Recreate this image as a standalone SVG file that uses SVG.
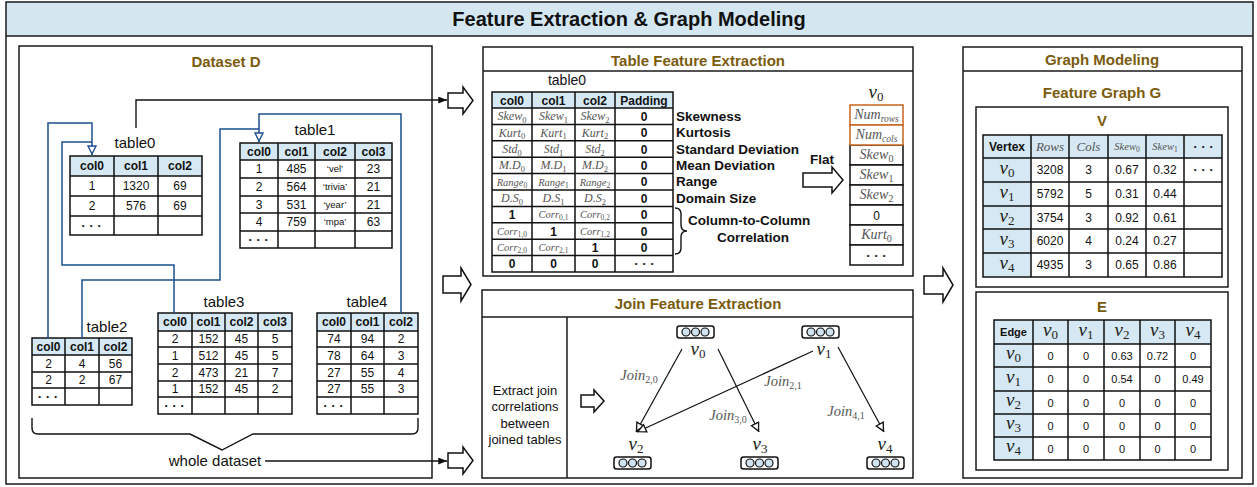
<svg xmlns="http://www.w3.org/2000/svg" width="1257" height="487" viewBox="0 0 1257 487">
  <style>
    .frame{fill:none;stroke:#1a1a1a;stroke-width:1.5}
    .hdr{fill:#d5e8f3}
    .grid{fill:none;stroke:#111;stroke-width:1.5}
    .t{font-family:"Liberation Sans",Arial,sans-serif;font-size:12px;fill:#111;text-anchor:middle}
    .b{font-weight:bold}
    .f15{font-size:15px}
    .f14{font-size:14px}
    .f13{font-size:13px}
    .f11{font-size:11px}
    .q{font-size:9.5px}
    .lbl{font-family:"Liberation Sans",Arial,sans-serif;font-size:13.5px;font-weight:bold;fill:#111}
    .ttl{font-family:"Liberation Sans",Arial,sans-serif;font-size:15px;font-weight:bold;fill:#7a5b0e;text-anchor:middle}
    .m{font-family:"Liberation Serif","DejaVu Serif",serif;font-style:italic;fill:#555;text-anchor:middle}
    .mv{font-family:"Liberation Serif","DejaVu Serif",serif;font-style:italic;fill:#222;text-anchor:middle}
    .up{font-style:normal}
    .dots{font-family:"Liberation Sans",Arial,sans-serif;font-size:8px;fill:#111;text-anchor:middle;letter-spacing:1.5px}
    .blk{fill:#fff;stroke:#111;stroke-width:1.5;stroke-linejoin:miter}
    .link{fill:none;stroke:#1c4f8f;stroke-width:1.5}
    .wire{fill:none;stroke:#111;stroke-width:1.4}
    .edge{fill:none;stroke:#111;stroke-width:1.2}
    .orange{fill:#fff;stroke:#c8641e;stroke-width:1.5}
    .cell{fill:#fff;stroke:#111;stroke-width:1.5}
    .icon{fill:#fff;stroke:#111;stroke-width:1.5}
    .dot{fill:#cfe3f1;stroke:#111;stroke-width:1.2}
  </style>
  <defs>
    <marker id="fillArrow" viewBox="0 0 10 8" refX="10" refY="4" markerWidth="9" markerHeight="7" orient="auto" markerUnits="userSpaceOnUse">
      <path d="M0,0 L10,4 L0,8 z" fill="#111"/>
    </marker>
    <marker id="openBlue" viewBox="0 0 10 10" refX="10" refY="5" markerWidth="10" markerHeight="10" orient="auto" markerUnits="userSpaceOnUse">
      <path d="M1,1 L9,5 L1,9 z" fill="#fff" stroke="#1c4f8f" stroke-width="1.4"/>
    </marker>
    <marker id="openBlack" viewBox="0 0 10 10" refX="10" refY="5" markerWidth="10" markerHeight="10" orient="auto" markerUnits="userSpaceOnUse">
      <path d="M1,1 L9,5 L1,9 z" fill="#fff" stroke="#111" stroke-width="1.3"/>
    </marker>
  </defs>

  <rect x="0" y="0" width="1257" height="487" fill="#fff"/>

  <!-- outer frame with title band -->
  <g id="title">
    <rect x="6" y="2" width="1247" height="34" fill="#d4e7f1"/>
    <rect class="frame" x="6" y="2" width="1247" height="482"/>
    <line class="frame" x1="6" y1="36" x2="1253" y2="36"/>
    <text x="629" y="26" font-family="Liberation Sans, Arial, sans-serif" font-size="20" font-weight="bold" fill="#111" text-anchor="middle">Feature Extraction &amp; Graph Modeling</text>
  </g>

  <!-- ===== Dataset D ===== -->
  <g id="dataset">
    <rect class="frame" x="19" y="46" width="413" height="432"/>
    <text class="ttl" x="226" y="67">Dataset D</text>

    <!-- table0 -->
    <g id="table0">
      <text class="t f15" x="135" y="148">table0</text>
      <rect class="hdr" x="70" y="156" width="132" height="20"/>
      <path class="grid" d="M70,156H202V235H70Z M114,156V235 M158,156V235 M70,176H202 M70,196H202 M70,216H202"/>
      <text class="t b" x="92" y="170">col0</text><text class="t b" x="136" y="170">col1</text><text class="t b" x="180" y="170">col2</text>
      <text class="t" x="92" y="190">1</text><text class="t" x="136" y="190">1320</text><text class="t" x="180" y="190">69</text>
      <text class="t" x="92" y="210">2</text><text class="t" x="136" y="210">576</text><text class="t" x="180" y="210">69</text>
      <text class="dots" x="92" y="228">• • •</text>
    </g>

    <!-- table1 -->
    <g id="table1">
      <text class="t f15" x="315" y="135">table1</text>
      <rect class="hdr" x="240" y="143" width="152" height="17"/>
      <path class="grid" d="M240,143H392V248H240Z M278,143V248 M315,143V248 M355,143V248 M240,160H392 M240,178H392 M240,196H392 M240,213H392 M240,231H392"/>
      <text class="t b" x="259" y="156">col0</text><text class="t b" x="296.5" y="156">col1</text><text class="t b" x="335" y="156">col2</text><text class="t b" x="373.5" y="156">col3</text>
      <text class="t" x="259" y="173">1</text><text class="t" x="296.5" y="173">485</text><text class="t q" x="335" y="172">‘vel’</text><text class="t" x="373.5" y="173">23</text>
      <text class="t" x="259" y="191">2</text><text class="t" x="296.5" y="191">564</text><text class="t q" x="335" y="190">‘trivia’</text><text class="t" x="373.5" y="191">21</text>
      <text class="t" x="259" y="209">3</text><text class="t" x="296.5" y="209">531</text><text class="t q" x="335" y="208">‘year’</text><text class="t" x="373.5" y="209">21</text>
      <text class="t" x="259" y="226">4</text><text class="t" x="296.5" y="226">759</text><text class="t q" x="335" y="225">‘mpa’</text><text class="t" x="373.5" y="226">63</text>
      <text class="dots" x="259" y="242">• • •</text>
    </g>

    <!-- table2 -->
    <g id="table2">
      <text class="t f15" x="107" y="332">table2</text>
      <rect class="hdr" x="32" y="338" width="100" height="17"/>
      <path class="grid" d="M32,338H132V405H32Z M65,338V405 M99,338V405 M32,355H132 M32,372H132 M32,388H132"/>
      <text class="t b" x="48.5" y="351">col0</text><text class="t b" x="82" y="351">col1</text><text class="t b" x="115.5" y="351">col2</text>
      <text class="t" x="48.5" y="368">2</text><text class="t" x="82" y="368">4</text><text class="t" x="115.5" y="368">56</text>
      <text class="t" x="48.5" y="384">2</text><text class="t" x="82" y="384">2</text><text class="t" x="115.5" y="384">67</text>
      <text class="dots" x="48.5" y="399">• • •</text>
    </g>

    <!-- table3 -->
    <g id="table3">
      <text class="t f15" x="224" y="307">table3</text>
      <rect class="hdr" x="158" y="313" width="134" height="18"/>
      <path class="grid" d="M158,313H292V414H158Z M192,313V414 M225,313V414 M258,313V414 M158,331H292 M158,347H292 M158,364H292 M158,381H292 M158,397H292"/>
      <text class="t b" x="175" y="326">col0</text><text class="t b" x="208.5" y="326">col1</text><text class="t b" x="241.5" y="326">col2</text><text class="t b" x="275" y="326">col3</text>
      <text class="t" x="175" y="343">2</text><text class="t" x="208.5" y="343">152</text><text class="t" x="241.5" y="343">45</text><text class="t" x="275" y="343">5</text>
      <text class="t" x="175" y="360">1</text><text class="t" x="208.5" y="360">512</text><text class="t" x="241.5" y="360">45</text><text class="t" x="275" y="360">5</text>
      <text class="t" x="175" y="377">2</text><text class="t" x="208.5" y="377">473</text><text class="t" x="241.5" y="377">21</text><text class="t" x="275" y="377">7</text>
      <text class="t" x="175" y="393">1</text><text class="t" x="208.5" y="393">152</text><text class="t" x="241.5" y="393">45</text><text class="t" x="275" y="393">2</text>
      <text class="dots" x="175" y="408">• • •</text>
    </g>

    <!-- table4 -->
    <g id="table4">
      <text class="t f15" x="367" y="307">table4</text>
      <rect class="hdr" x="317" y="313" width="101" height="18"/>
      <path class="grid" d="M317,313H418V414H317Z M351,313V414 M384,313V414 M317,331H418 M317,347H418 M317,364H418 M317,381H418 M317,397H418"/>
      <text class="t b" x="334" y="326">col0</text><text class="t b" x="367.5" y="326">col1</text><text class="t b" x="401" y="326">col2</text>
      <text class="t" x="334" y="343">74</text><text class="t" x="367.5" y="343">94</text><text class="t" x="401" y="343">2</text>
      <text class="t" x="334" y="360">78</text><text class="t" x="367.5" y="360">64</text><text class="t" x="401" y="360">3</text>
      <text class="t" x="334" y="377">27</text><text class="t" x="367.5" y="377">55</text><text class="t" x="401" y="377">4</text>
      <text class="t" x="334" y="393">27</text><text class="t" x="367.5" y="393">55</text><text class="t" x="401" y="393">3</text>
      <text class="dots" x="334" y="408">• • •</text>
    </g>

    <!-- brace grouping all tables -->
    <path class="wire" d="M32,418 V428 Q32,434 38,434 H190 L222,450 L253,434 H412 Q418,434 418,428 V418"/>
    <text class="t f15" x="215" y="466">whole dataset</text>
  </g>

  <!-- ===== Table Feature Extraction ===== -->
  <g id="table-feature">
    <rect class="frame" x="483" y="47" width="430" height="229"/>
    <line class="frame" x1="483" y1="71" x2="913" y2="71"/>
    <text class="ttl" x="698" y="66">Table Feature Extraction</text>
    <text class="t f14" x="567" y="85">table0</text>

    <rect class="hdr" x="492" y="92" width="181" height="16"/>
    <path class="grid" d="M492,92H673V272H492Z M532,92V272 M575,92V272 M615,92V272 M492,108H673 M492,124.4H673 M492,140.8H673 M492,157.2H673 M492,173.6H673 M492,190H673 M492,206.4H673 M492,222.8H673 M492,239.2H673 M492,255.6H673"/>
    <text class="t b" x="512" y="104.5">col0</text><text class="t b" x="553.5" y="104.5">col1</text><text class="t b" x="595" y="104.5">col2</text><text class="t b" x="644" y="104.5">Padding</text>

    <g>
      <text class="m" x="512" y="120" font-size="12">Skew<tspan class="up" font-size="8.5" dy="2.5">0</tspan></text>
      <text class="m" x="553.5" y="120" font-size="12">Skew<tspan class="up" font-size="8.5" dy="2.5">1</tspan></text>
      <text class="m" x="595" y="120" font-size="12">Skew<tspan class="up" font-size="8.5" dy="2.5">2</tspan></text>
      <text class="m" x="512" y="136.5" font-size="12">Kurt<tspan class="up" font-size="8.5" dy="2.5">0</tspan></text>
      <text class="m" x="553.5" y="136.5" font-size="12">Kurt<tspan class="up" font-size="8.5" dy="2.5">1</tspan></text>
      <text class="m" x="595" y="136.5" font-size="12">Kurt<tspan class="up" font-size="8.5" dy="2.5">2</tspan></text>
      <text class="m" x="512" y="153" font-size="12">Std<tspan class="up" font-size="8.5" dy="2.5">0</tspan></text>
      <text class="m" x="553.5" y="153" font-size="12">Std<tspan class="up" font-size="8.5" dy="2.5">1</tspan></text>
      <text class="m" x="595" y="153" font-size="12">Std<tspan class="up" font-size="8.5" dy="2.5">2</tspan></text>
      <text class="m" x="512" y="169" font-size="12">M.D<tspan class="up" font-size="8.5" dy="2.5">0</tspan></text>
      <text class="m" x="553.5" y="169" font-size="12">M.D<tspan class="up" font-size="8.5" dy="2.5">1</tspan></text>
      <text class="m" x="595" y="169" font-size="12">M.D<tspan class="up" font-size="8.5" dy="2.5">2</tspan></text>
      <text class="m" x="512" y="185.5" font-size="10.5">Range<tspan class="up" font-size="7.5" dy="2">0</tspan></text>
      <text class="m" x="553.5" y="185.5" font-size="10.5">Range<tspan class="up" font-size="7.5" dy="2">1</tspan></text>
      <text class="m" x="595" y="185.5" font-size="10.5">Range<tspan class="up" font-size="7.5" dy="2">2</tspan></text>
      <text class="m" x="512" y="202" font-size="12">D.S<tspan class="up" font-size="8.5" dy="2.5">0</tspan></text>
      <text class="m" x="553.5" y="202" font-size="12">D.S<tspan class="up" font-size="8.5" dy="2.5">1</tspan></text>
      <text class="m" x="595" y="202" font-size="12">D.S<tspan class="up" font-size="8.5" dy="2.5">2</tspan></text>
      <text class="m" x="553.5" y="218" font-size="10.5">Corr<tspan class="up" font-size="7.5" dy="2">0,1</tspan></text>
      <text class="m" x="595" y="218" font-size="10.5">Corr<tspan class="up" font-size="7.5" dy="2">0,2</tspan></text>
      <text class="m" x="512" y="234.5" font-size="10.5">Corr<tspan class="up" font-size="7.5" dy="2">1,0</tspan></text>
      <text class="m" x="595" y="234.5" font-size="10.5">Corr<tspan class="up" font-size="7.5" dy="2">1,2</tspan></text>
      <text class="m" x="512" y="251" font-size="10.5">Corr<tspan class="up" font-size="7.5" dy="2">2,0</tspan></text>
      <text class="m" x="553.5" y="251" font-size="10.5">Corr<tspan class="up" font-size="7.5" dy="2">2,1</tspan></text>
    </g>
    <text class="t b" x="512" y="219">1</text>
    <text class="t b" x="553.5" y="235.5">1</text>
    <text class="t b" x="595" y="252">1</text>
    <text class="t b" x="644" y="120.5">0</text>
    <text class="t b" x="644" y="137">0</text>
    <text class="t b" x="644" y="153.5">0</text>
    <text class="t b" x="644" y="169.5">0</text>
    <text class="t b" x="644" y="186">0</text>
    <text class="t b" x="644" y="202.5">0</text>
    <text class="t b" x="644" y="219">0</text>
    <text class="t b" x="644" y="235.5">0</text>
    <text class="t b" x="644" y="252">0</text>
    <text class="t b" x="512" y="268">0</text>
    <text class="t b" x="553.5" y="268">0</text>
    <text class="t b" x="595" y="268">0</text>
    <text class="dots" x="645" y="266">• • •</text>

    <text class="lbl" x="676" y="121">Skewness</text>
    <text class="lbl" x="676" y="137">Kurtosis</text>
    <text class="lbl" x="676" y="153.5">Standard Deviation</text>
    <text class="lbl" x="676" y="170">Mean Deviation</text>
    <text class="lbl" x="676" y="186">Range</text>
    <text class="lbl" x="676" y="202.5">Domain Size</text>
    <path class="wire" stroke-width="1.2" d="M675,208 Q681,208 681,214 V225 Q681,231 687,231 Q681,231 681,237 V248 Q681,254 675,254"/>
    <text class="lbl" x="688" y="225">Column-to-Column</text>
    <text class="lbl" x="753" y="242" text-anchor="middle">Correlation</text>

    <!-- flatten arrow -->
    <text class="lbl" x="822" y="164" text-anchor="middle">Flat</text>
    <polygon class="blk" points="803,173 832,173 832,167 843,180 832,193 832,187 803,187"/>

    <!-- flattened vector v0 -->
    <text class="mv" x="876" y="98" font-size="19">v<tspan class="up" font-size="13" dy="3">0</tspan></text>
    <rect class="cell" x="850" y="145" width="53" height="20"/>
    <rect class="cell" x="850" y="165" width="53" height="20"/>
    <rect class="cell" x="850" y="185" width="53" height="20"/>
    <rect class="cell" x="850" y="205" width="53" height="20"/>
    <rect class="cell" x="850" y="225" width="53" height="20"/>
    <rect class="cell" x="850" y="245" width="53" height="20"/>
    <rect class="orange" x="850" y="105" width="53" height="20"/>
    <rect class="orange" x="850" y="125" width="53" height="20"/>
    <text class="m" x="876.5" y="119" font-size="14">Num<tspan font-size="9.5" dy="2.5">rows</tspan></text>
    <text class="m" x="876.5" y="139" font-size="14">Num<tspan font-size="9.5" dy="2.5">cols</tspan></text>
    <text class="m" x="876.5" y="159" font-size="14">Skew<tspan class="up" font-size="10" dy="2.5">0</tspan></text>
    <text class="m" x="876.5" y="179" font-size="14">Skew<tspan class="up" font-size="10" dy="2.5">1</tspan></text>
    <text class="m" x="876.5" y="199" font-size="14">Skew<tspan class="up" font-size="10" dy="2.5">2</tspan></text>
    <text class="t" x="876.5" y="219.5">0</text>
    <text class="m" x="876.5" y="239" font-size="14">Kurt<tspan class="up" font-size="10" dy="2.5">0</tspan></text>
    <text class="dots" x="877" y="258">• • •</text>
  </g>

  <!-- ===== Join Feature Extraction ===== -->
  <g id="join-feature">
    <rect class="frame" x="482" y="290" width="431" height="188"/>
    <line class="frame" x1="482" y1="317" x2="913" y2="317"/>
    <line class="frame" x1="567" y1="317" x2="567" y2="478"/>
    <text class="ttl" x="698" y="309">Join Feature Extraction</text>
    <text class="t f13" x="525" y="395">Extract join</text>
    <text class="t f13" x="525" y="411">correlations</text>
    <text class="t f13" x="525" y="428">between</text>
    <text class="t f13" x="525" y="444">joined tables</text>
    <polygon class="blk" points="581,395 594,395 594,390 604,401 594,412 594,407 581,407"/>

    <g id="node-v0">
      <rect class="icon" x="677" y="326" width="37" height="12" rx="2.5"/>
      <circle class="dot" cx="686" cy="332" r="4"/><circle class="dot" cx="695.5" cy="332" r="4"/><circle class="dot" cx="705" cy="332" r="4"/>
      <text class="mv" x="698" y="355" font-size="19">v<tspan class="up" font-size="13" dy="3">0</tspan></text>
    </g>
    <g id="node-v1">
      <rect class="icon" x="802" y="326" width="37" height="12" rx="2.5"/>
      <circle class="dot" cx="811" cy="332" r="4"/><circle class="dot" cx="820.5" cy="332" r="4"/><circle class="dot" cx="830" cy="332" r="4"/>
      <text class="mv" x="824" y="355" font-size="19">v<tspan class="up" font-size="13" dy="3">1</tspan></text>
    </g>
    <g id="node-v2">
      <text class="mv" x="636" y="450" font-size="19">v<tspan class="up" font-size="13" dy="3">2</tspan></text>
      <rect class="icon" x="614" y="457" width="37" height="12" rx="2.5"/>
      <circle class="dot" cx="623" cy="463" r="4"/><circle class="dot" cx="632.5" cy="463" r="4"/><circle class="dot" cx="642" cy="463" r="4"/>
    </g>
    <g id="node-v3">
      <text class="mv" x="760" y="450" font-size="19">v<tspan class="up" font-size="13" dy="3">3</tspan></text>
      <rect class="icon" x="741" y="457" width="37" height="12" rx="2.5"/>
      <circle class="dot" cx="750" cy="463" r="4"/><circle class="dot" cx="759.5" cy="463" r="4"/><circle class="dot" cx="769" cy="463" r="4"/>
    </g>
    <g id="node-v4">
      <text class="mv" x="885" y="450" font-size="19">v<tspan class="up" font-size="13" dy="3">4</tspan></text>
      <rect class="icon" x="867" y="457" width="37" height="12" rx="2.5"/>
      <circle class="dot" cx="876" cy="463" r="4"/><circle class="dot" cx="885.5" cy="463" r="4"/><circle class="dot" cx="895" cy="463" r="4"/>
    </g>

    <text class="m" x="639" y="380" font-size="14.5" fill="#333">Join<tspan class="up" font-size="10" dy="3">2,0</tspan></text>
    <text class="m" x="783" y="386" font-size="14.5" fill="#333">Join<tspan class="up" font-size="10" dy="3">2,1</tspan></text>
    <text class="m" x="728" y="420" font-size="14.5" fill="#333">Join<tspan class="up" font-size="10" dy="3">3,0</tspan></text>
    <text class="m" x="846" y="416" font-size="14.5" fill="#333">Join<tspan class="up" font-size="10" dy="3">4,1</tspan></text>
  </g>

  <!-- ===== Graph Modeling ===== -->
  <g id="graph-modeling">
    <rect class="frame" x="963" y="47" width="279" height="431"/>
    <line class="frame" x1="963" y1="71" x2="1242" y2="71"/>
    <text class="ttl" x="1102" y="65">Graph Modeling</text>
    <text class="ttl" x="1102" y="98">Feature Graph G</text>

    <g id="vertex-table">
      <rect class="frame" x="976" y="107" width="252" height="180"/>
      <text class="ttl" x="1102" y="126">V</text>
      <rect class="hdr" x="983" y="135" width="239" height="23"/>
      <rect class="hdr" x="983" y="158" width="48" height="119"/>
      <path class="grid" d="M983,135H1222V277H983Z M1031,135V277 M1069,135V277 M1108,135V277 M1146,135V277 M1184,135V277 M983,158H1222 M983,182H1222 M983,206H1222 M983,229H1222 M983,253H1222"/>
      <text class="t b" x="1007" y="150.5">Vertex</text>
      <text class="m" x="1050" y="151" font-size="13">Rows</text>
      <text class="m" x="1088.5" y="151" font-size="13">Cols</text>
      <text class="m" x="1127" y="150" font-size="10.5">Skew<tspan class="up" font-size="7.5" dy="2">0</tspan></text>
      <text class="m" x="1165" y="150" font-size="10.5">Skew<tspan class="up" font-size="7.5" dy="2">1</tspan></text>
      <text class="dots" x="1204" y="149">• • •</text>

      <text class="mv" x="1007" y="174" font-size="19">v<tspan class="up" font-size="13" dy="3">0</tspan></text>
      <text class="mv" x="1007" y="198" font-size="19">v<tspan class="up" font-size="13" dy="3">1</tspan></text>
      <text class="mv" x="1007" y="221.5" font-size="19">v<tspan class="up" font-size="13" dy="3">2</tspan></text>
      <text class="mv" x="1007" y="245" font-size="19">v<tspan class="up" font-size="13" dy="3">3</tspan></text>
      <text class="mv" x="1007" y="269" font-size="19">v<tspan class="up" font-size="13" dy="3">4</tspan></text>

      <text class="t" x="1050" y="174">3208</text><text class="t" x="1088.5" y="174">3</text><text class="t" x="1127" y="174">0.67</text><text class="t" x="1165" y="174">0.32</text><text class="dots" x="1204" y="172">• • •</text>
      <text class="t" x="1050" y="198">5792</text><text class="t" x="1088.5" y="198">5</text><text class="t" x="1127" y="198">0.31</text><text class="t" x="1165" y="198">0.44</text>
      <text class="t" x="1050" y="221.5">3754</text><text class="t" x="1088.5" y="221.5">3</text><text class="t" x="1127" y="221.5">0.92</text><text class="t" x="1165" y="221.5">0.61</text>
      <text class="t" x="1050" y="245">6020</text><text class="t" x="1088.5" y="245">4</text><text class="t" x="1127" y="245">0.24</text><text class="t" x="1165" y="245">0.27</text>
      <text class="t" x="1050" y="269">4935</text><text class="t" x="1088.5" y="269">3</text><text class="t" x="1127" y="269">0.65</text><text class="t" x="1165" y="269">0.86</text>
    </g>

    <g id="edge-table">
      <rect class="frame" x="976" y="292" width="252" height="178"/>
      <text class="ttl" x="1102" y="312">E</text>
      <rect class="hdr" x="994" y="320" width="217" height="24"/>
      <rect class="hdr" x="994" y="344" width="39" height="116"/>
      <path class="grid" d="M994,320H1211V460H994Z M1033,320V460 M1068,320V460 M1104,320V460 M1140,320V460 M1175,320V460 M994,344H1211 M994,367H1211 M994,391H1211 M994,414H1211 M994,437H1211"/>
      <text class="t b f11" x="1013.5" y="336">Edge</text>
      <text class="mv" x="1050.5" y="336" font-size="19">v<tspan class="up" font-size="13" dy="3">0</tspan></text>
      <text class="mv" x="1086" y="336" font-size="19">v<tspan class="up" font-size="13" dy="3">1</tspan></text>
      <text class="mv" x="1122" y="336" font-size="19">v<tspan class="up" font-size="13" dy="3">2</tspan></text>
      <text class="mv" x="1157.5" y="336" font-size="19">v<tspan class="up" font-size="13" dy="3">3</tspan></text>
      <text class="mv" x="1193" y="336" font-size="19">v<tspan class="up" font-size="13" dy="3">4</tspan></text>

      <text class="mv" x="1013.5" y="359" font-size="19">v<tspan class="up" font-size="13" dy="3">0</tspan></text>
      <text class="mv" x="1013.5" y="382.5" font-size="19">v<tspan class="up" font-size="13" dy="3">1</tspan></text>
      <text class="mv" x="1013.5" y="406" font-size="19">v<tspan class="up" font-size="13" dy="3">2</tspan></text>
      <text class="mv" x="1013.5" y="429" font-size="19">v<tspan class="up" font-size="13" dy="3">3</tspan></text>
      <text class="mv" x="1013.5" y="452" font-size="19">v<tspan class="up" font-size="13" dy="3">4</tspan></text>

      <g>
        <text class="t f11" x="1050.5" y="360">0</text><text class="t f11" x="1086" y="360">0</text><text class="t f11" x="1122" y="360">0.63</text><text class="t f11" x="1157.5" y="360">0.72</text><text class="t f11" x="1193" y="360">0</text>
        <text class="t f11" x="1050.5" y="383">0</text><text class="t f11" x="1086" y="383">0</text><text class="t f11" x="1122" y="383">0.54</text><text class="t f11" x="1157.5" y="383">0</text><text class="t f11" x="1193" y="383">0.49</text>
        <text class="t f11" x="1050.5" y="406.5">0</text><text class="t f11" x="1086" y="406.5">0</text><text class="t f11" x="1122" y="406.5">0</text><text class="t f11" x="1157.5" y="406.5">0</text><text class="t f11" x="1193" y="406.5">0</text>
        <text class="t f11" x="1050.5" y="429.5">0</text><text class="t f11" x="1086" y="429.5">0</text><text class="t f11" x="1122" y="429.5">0</text><text class="t f11" x="1157.5" y="429.5">0</text><text class="t f11" x="1193" y="429.5">0</text>
        <text class="t f11" x="1050.5" y="452.5">0</text><text class="t f11" x="1086" y="452.5">0</text><text class="t f11" x="1122" y="452.5">0</text><text class="t f11" x="1157.5" y="452.5">0</text><text class="t f11" x="1193" y="452.5">0</text>
      </g>
    </g>
  </g>

  <!-- ===== connectors ===== -->
  <g id="connectors">
    <!-- column joins between tables -->
    <path class="link" d="M48,338 V123 H92 V155" marker-end="url(#openBlue)"/>
    <path class="link" d="M174,313 V265 H62 V142 H92"/>
    <path class="link" d="M401,313 V114 H259 V142" marker-end="url(#openBlue)"/>
    <path class="link" d="M82,338 V280 H220 V129 H259"/>

    <!-- dataset to extraction stages -->
    <path class="wire" d="M136,128 V100 H447" marker-end="url(#fillArrow)"/>
    <path class="wire" d="M265,461 H447" marker-end="url(#fillArrow)"/>
    <polygon class="blk" points="448,93 463,93 463,87 473,100.5 463,114 463,108 448,108"/>
    <polygon class="blk" points="443,276 461,276 461,268 471,284.5 461,301 461,293 443,293"/>
    <polygon class="blk" points="448,453 463,453 463,447 473,460.5 463,474 463,468 448,468"/>
    <polygon class="blk" points="924,276 943,276 943,268 953,285 943,302 943,294 924,294"/>

    <!-- join correlation edges -->
    <path class="edge" d="M682,349 L636,432" marker-end="url(#openBlack)"/>
    <path class="edge" d="M813,351 L637,432" marker-end="url(#openBlack)"/>
    <path class="edge" d="M718,349 L759,432" marker-end="url(#openBlack)"/>
    <path class="edge" d="M838,347 L884,432" marker-end="url(#openBlack)"/>
  </g>
</svg>
